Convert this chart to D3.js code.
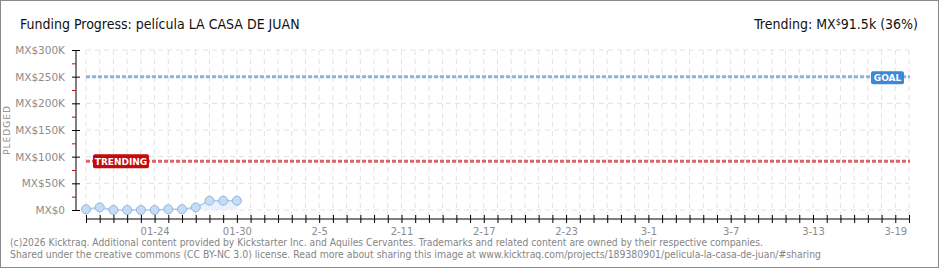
<!DOCTYPE html>
<html>
<head>
<meta charset="utf-8">
<script src="https://cdn.jsdelivr.net/npm/d3@7"></script>
<style>
  body { margin: 0; background: #fff; }
  svg { display: block; }
  .title { font-family: "Liberation Sans Narrow", "DejaVu Sans Condensed", sans-serif; font-stretch: condensed; }
  .tick text { font-family: "DejaVu Sans", sans-serif; }
</style>
</head>
<body>
<div id="chart"></div>
<script>
// daily pledged totals (MX$)
const dates = ["2026-01-19", "2026-01-20", "2026-01-21", "2026-01-22", "2026-01-23", "2026-01-24",
               "2026-01-25", "2026-01-26", "2026-01-27", "2026-01-28", "2026-01-29", "2026-01-30"];
const pledged = [1300, 5000, 0, 0, 0, 0, 1500, 1500, 5000, 17400, 17400, 17400];

const goal = 250000;
const trending = 91500;

const yTicks = [0, 50000, 100000, 150000, 200000, 250000, 300000];
const yTickLabels = ["MX$0", "MX$50K", "MX$100K", "MX$150K", "MX$200K", "MX$250K", "MX$300K"];
const xTickDates = ["2026-01-24", "2026-01-30", "2026-02-05", "2026-02-11", "2026-02-17",
                    "2026-02-23", "2026-03-01", "2026-03-07", "2026-03-13", "2026-03-19"];
const xTickLabels = ["01-24", "01-30", "2-5", "2-11", "2-17", "2-23", "3-1", "3-7", "3-13", "3-19"];

const width = 940, height = 270;
const parse = d3.utcParse("%Y-%m-%d");
const data = dates.map((d, i) => ({ date: parse(d), value: pledged[i] }));

const svg = d3.select("#chart").append("svg")
    .attr("width", width).attr("height", height);

// frame
svg.append("rect")
    .attr("x", 0.5).attr("y", 0.5)
    .attr("width", width - 2).attr("height", height - 3)
    .attr("fill", "#fff").attr("stroke", "#8a8a8a");

const x = d3.scaleUtc()
    .domain([parse("2026-01-19"), parse("2026-03-20")])
    .range([86, 909]);

const y = d3.scaleLinear()
    .domain([0, 300000])
    .range([210, 50]);

const allDays = d3.utcDay.range(x.domain()[0], d3.utcDay.offset(x.domain()[1], 1));

// grid
svg.append("g").selectAll("line")
    .data(allDays)
    .join("line")
    .attr("x1", d => x(d)).attr("x2", d => x(d))
    .attr("y1", y(300000)).attr("y2", 216)
    .attr("stroke", "#e2e2e2")
    .attr("stroke-dasharray", "5,4");

svg.append("g").selectAll("line")
    .data(yTicks)
    .join("line")
    .attr("x1", x.range()[0]).attr("x2", x.range()[1])
    .attr("y1", d => y(d)).attr("y2", d => y(d))
    .attr("stroke", "#e2e2e2")
    .attr("stroke-dasharray", "5,4");

// goal line + label
svg.append("line")
    .attr("x1", x.range()[0]).attr("x2", x.range()[1] + 1)
    .attr("y1", y(goal)).attr("y2", y(goal))
    .attr("stroke", "#8fb2dc").attr("stroke-width", 3)
    .attr("stroke-dasharray", "4,2");

svg.append("rect")
    .attr("x", 871).attr("y", y(goal) - 5.5)
    .attr("width", 33).attr("height", 13).attr("rx", 2)
    .attr("fill", "#3d87d9");
svg.append("text")
    .attr("x", 887.5).attr("y", y(goal) + 4.5)
    .attr("text-anchor", "middle")
    .attr("fill", "#fff")
    .style("font", "bold 9px 'DejaVu Sans', sans-serif")
    .text("GOAL");

// trending line + label
svg.append("line")
    .attr("x1", x.range()[0]).attr("x2", x.range()[1] + 1)
    .attr("y1", y(trending)).attr("y2", y(trending))
    .attr("stroke", "#d9666a").attr("stroke-width", 3)
    .attr("stroke-dasharray", "4,2");

svg.append("rect")
    .attr("x", 93).attr("y", y(trending) - 7)
    .attr("width", 56).attr("height", 14).attr("rx", 2)
    .attr("fill", "#c40a0a");
svg.append("text")
    .attr("x", 121).attr("y", y(trending) + 3.5)
    .attr("text-anchor", "middle")
    .attr("fill", "#fff")
    .style("font", "bold 9px 'DejaVu Sans', sans-serif")
    .text("TRENDING");

// area + line + points
svg.append("path")
    .datum(data)
    .attr("fill", "#e9f2fc")
    .attr("d", d3.area().x(d => x(d.date)).y0(y(0)).y1(d => y(d.value)));

svg.append("path")
    .datum(data)
    .attr("fill", "none")
    .attr("stroke", "#a9cbf1")
    .attr("stroke-width", 1.5)
    .attr("d", d3.line().x(d => x(d.date)).y(d => y(d.value)));

svg.append("g").selectAll("circle")
    .data(data)
    .join("circle")
    .attr("cx", d => x(d.date))
    .attr("cy", d => y(d.value))
    .attr("r", 4.5)
    .attr("fill", "#c4dcf6")
    .attr("stroke", "#94b6de")
    .attr("stroke-width", 1);

// y axis
const yAxis = svg.append("g")
    .attr("transform", "translate(76,0)")
    .call(d3.axisLeft(y).tickValues(yTicks).tickSize(4).tickPadding(7)
        .tickFormat((d, i) => yTickLabels[i]));
yAxis.select(".domain").attr("d", `M0,${y(300000)}V${y(0)}`).attr("stroke", "#000");
yAxis.selectAll(".tick line").attr("x1", -4).attr("x2", 4);
yAxis.selectAll(".tick text").attr("fill", "#8c8c8c").style("font-size", "10.5px");

svg.append("g")
    .attr("transform", "translate(76,0)")
    .call(d3.axisLeft(y).tickValues(d3.range(25000, 300000, 50000)).tickSize(4).tickFormat(""))
    .call(g => g.select(".domain").remove())
    .call(g => g.selectAll(".tick line").attr("stroke", "#d00000"));

// x axis
const xAxis = svg.append("g")
    .attr("transform", "translate(0,219)")
    .call(d3.axisBottom(x).tickValues(allDays).tickSize(4).tickPadding(5)
        .tickFormat(d => {
            const i = xTickDates.indexOf(d3.utcFormat("%Y-%m-%d")(d));
            return i >= 0 ? xTickLabels[i] : "";
        }));
xAxis.select(".domain").attr("d", `M${x.range()[0]},0H${x.range()[1]}`).attr("stroke", "#000");
xAxis.selectAll(".tick line").attr("y1", -4).attr("y2", 4);
xAxis.selectAll(".tick text").attr("fill", "#8c8c8c").style("font-size", "10px");

// y label
svg.append("text")
    .attr("transform", "translate(10,130) rotate(-90)")
    .attr("text-anchor", "middle")
    .attr("fill", "#8c8c8c")
    .style("font", "9px 'DejaVu Sans', sans-serif")
    .style("letter-spacing", "1px")
    .text("PLEDGED");

// titles
svg.append("text")
    .attr("class", "title")
    .attr("x", 20).attr("y", 29)
    .style("font-size", "14px")
    .attr("fill", "#111")
    .text("Funding Progress: película LA CASA DE JUAN");

const tr = svg.append("text")
    .attr("class", "title")
    .attr("x", 918).attr("y", 29)
    .attr("text-anchor", "end")
    .style("font-size", "14px")
    .attr("fill", "#111");
tr.append("tspan").text("Trending:  MX");
tr.append("tspan").attr("dy", -4).style("font-size", "9px").text("$");
tr.append("tspan").attr("dy", 4).text("91.5k (36%)");

// footer
svg.append("text")
    .attr("x", 10).attr("y", 246)
    .attr("fill", "#858585")
    .attr("textLength", 753).attr("lengthAdjust", "spacingAndGlyphs")
    .style("font", "10px 'DejaVu Sans', sans-serif")
    .text("(c)2026 Kicktraq. Additional content provided by Kickstarter Inc. and Aquiles Cervantes. Trademarks and related content are owned by their respective companies.");

svg.append("text")
    .attr("x", 10).attr("y", 258)
    .attr("fill", "#858585")
    .attr("textLength", 811).attr("lengthAdjust", "spacingAndGlyphs")
    .style("font", "10px 'DejaVu Sans', sans-serif")
    .text("Shared under the creative commons (CC BY-NC 3.0) license. Read more about sharing this image at www.kicktraq.com/projects/189380901/pelicula-la-casa-de-juan/#sharing");
</script>
</body>
</html>
